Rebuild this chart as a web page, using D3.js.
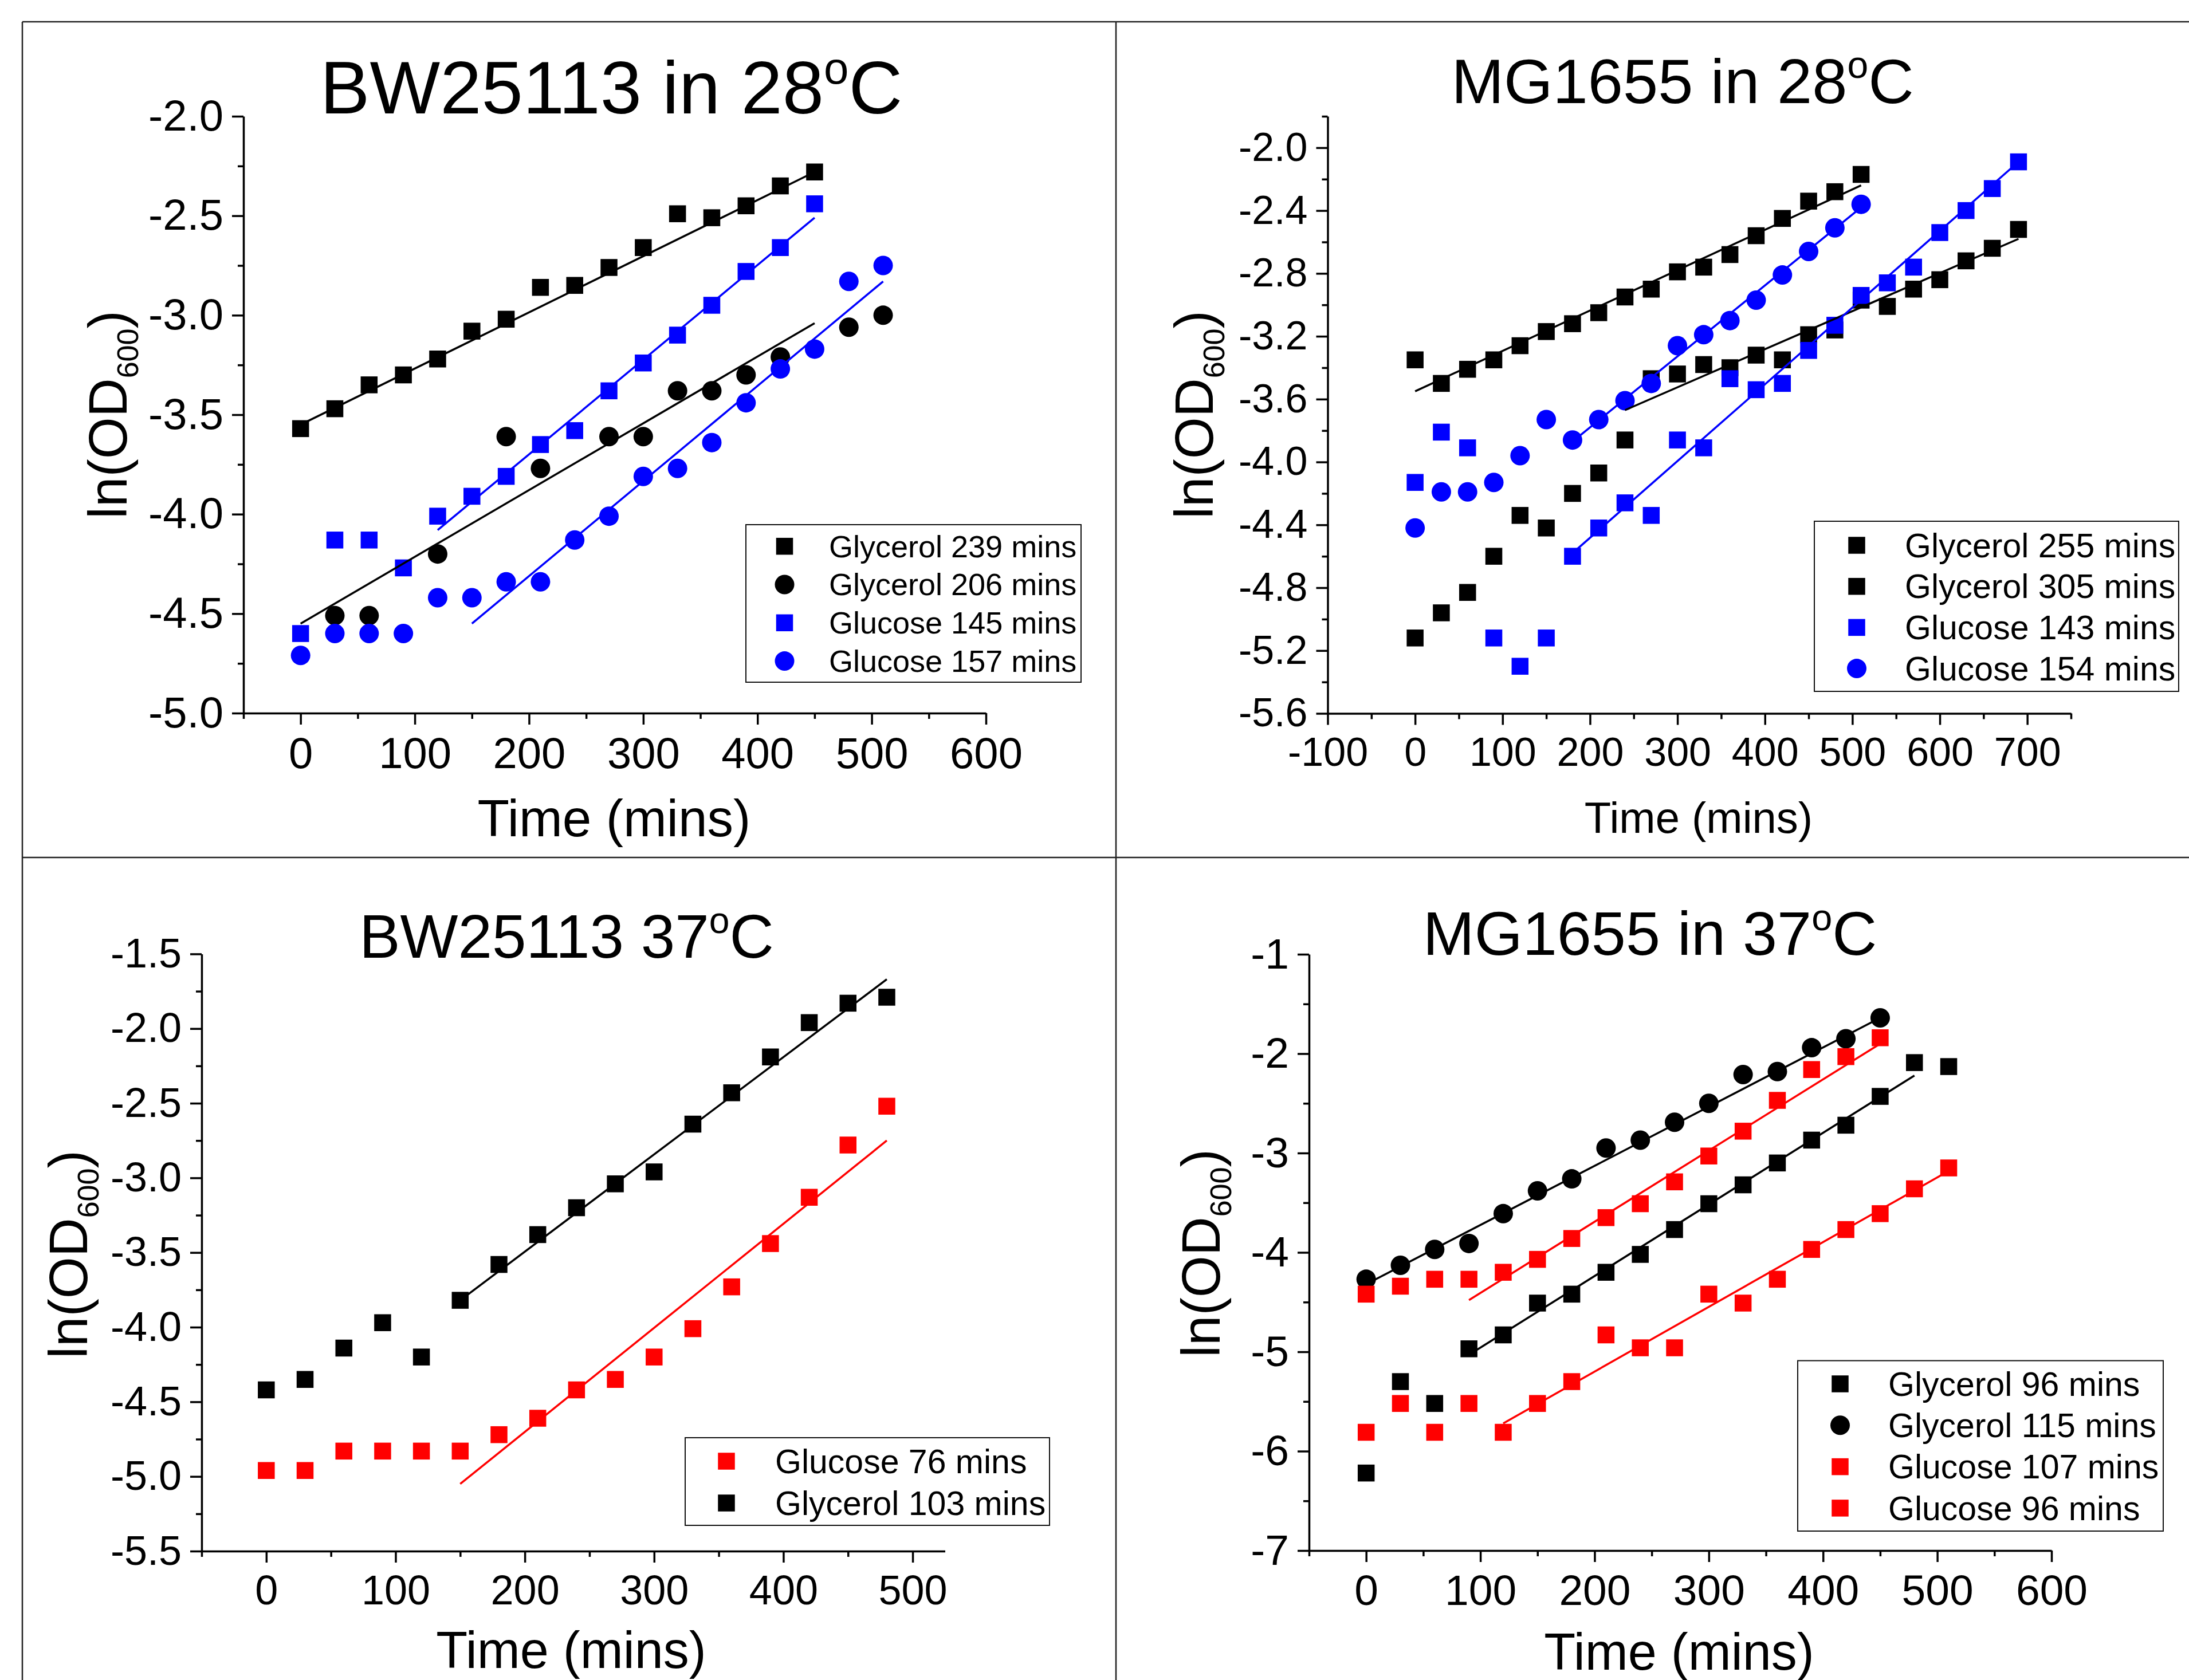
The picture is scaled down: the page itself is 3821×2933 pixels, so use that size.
<!DOCTYPE html>
<html>
<head>
<meta charset="utf-8">
<script src="https://cdn.jsdelivr.net/npm/d3@7"></script>
<style>
  body { margin: 0; background: #fff; }
  svg { display: block; font-family: "Liberation Sans", Arial, sans-serif; }
  .axis path, .axis line { stroke: #000; stroke-width: 3.5; }
  .axis text { fill: #000; font-family: "Liberation Sans", Arial, sans-serif; }
</style>
</head>
<body>
<svg id="fig" width="3821" height="2933"></svg>
<script>
// sampling times (mins), shared by every series; null = no visible point
const times = [0, 30, 60, 90, 120, 150, 180, 210, 240, 270, 300, 330, 360, 390, 420, 450, 480, 510, 540, 570, 600, 630, 660, 690];

// BW25113 in 28C
const bw28Gly239 = [-3.57, -3.47, -3.35, -3.30, -3.22, -3.08, -3.02, -2.86, -2.85, -2.76, -2.66, -2.49, -2.51, -2.45, -2.35, -2.28];
const bw28Gly206 = [null, -4.51, -4.51, null, -4.20, null, -3.61, -3.77, null, -3.61, -3.61, -3.38, -3.38, -3.30, -3.21, null, -3.06, -3.00];
const bw28Glu145 = [-4.60, -4.13, -4.13, -4.27, -4.01, -3.91, -3.81, -3.65, -3.58, -3.38, -3.24, -3.10, -2.95, -2.78, -2.66, -2.44];
const bw28Glu157 = [-4.71, -4.60, -4.60, -4.60, -4.42, -4.42, -4.34, -4.34, -4.13, -4.01, -3.81, -3.77, -3.64, -3.44, -3.27, -3.17, -2.83, -2.75];
const bw28Gly239Fit = [[0, -3.55], [450, -2.28]];
const bw28Gly206Fit = [[0, -4.55], [450, -3.04]];
const bw28Glu145Fit = [[120, -4.08], [450, -2.51]];
const bw28Glu157Fit = [[150, -4.55], [510, -2.83]];

// MG1655 in 28C
const mg28Gly255 = [-3.35, -3.50, -3.41, -3.35, -3.26, -3.17, -3.12, -3.05, -2.95, -2.90, -2.79, -2.76, -2.68, -2.56, -2.45, -2.34, -2.28, -2.17];
const mg28Gly305 = [-5.12, -4.96, -4.83, -4.60, -4.34, -4.42, -4.20, -4.07, -3.86, -3.47, -3.44, -3.38, -3.40, -3.32, -3.35, -3.19, -3.16, -2.97, -3.01, -2.90, -2.84, -2.72, -2.64, -2.52];
const mg28Glu143 = [-4.13, -3.81, -3.91, -5.12, -5.30, -5.12, -4.60, -4.42, -4.26, -4.34, -3.86, -3.91, -3.47, -3.54, -3.50, -3.29, -3.13, -2.94, -2.86, -2.76, -2.54, -2.40, -2.26, -2.09];
const mg28Glu154 = [-4.42, -4.19, -4.19, -4.13, -3.96, -3.73, -3.86, -3.73, -3.61, -3.50, -3.26, -3.19, -3.10, -2.97, -2.81, -2.66, -2.51, -2.36];
const mg28Gly255Fit = [[0, -3.55], [510, -2.24]];
const mg28Gly305Fit = [[240, -3.67], [690, -2.58]];
const mg28Glu143Fit = [[180, -4.58], [690, -2.09]];
const mg28Glu154Fit = [[180, -3.87], [510, -2.38]];

// BW25113 37C
const bw37Glu76 = [-4.96, -4.96, -4.83, -4.83, -4.83, -4.83, -4.72, -4.61, -4.42, -4.35, -4.20, -4.01, -3.73, -3.44, -3.13, -2.78, -2.52];
const bw37Gly103 = [-4.42, -4.35, -4.14, -3.97, -4.20, -3.82, -3.58, -3.38, -3.20, -3.04, -2.96, -2.64, -2.43, -2.19, -1.96, -1.83, -1.79];
const bw37Glu76Fit = [[150, -5.05], [480, -2.75]];
const bw37Gly103Fit = [[150, -3.82], [480, -1.67]];

// MG1655 in 37C
const mg37Gly96 = [-6.22, -5.30, -5.52, -4.97, -4.83, -4.51, -4.42, -4.20, -4.02, -3.77, -3.51, -3.32, -3.10, -2.87, -2.72, -2.43, -2.09, -2.13];
const mg37Gly115 = [-4.27, -4.13, -3.97, -3.91, -3.61, -3.38, -3.26, -2.95, -2.87, -2.69, -2.50, -2.21, -2.18, -1.94, -1.85, -1.64];
const mg37Glu107 = [-4.42, -4.34, -4.27, -4.27, -4.20, -4.07, -3.86, -3.65, -3.51, -3.29, -3.03, -2.78, -2.47, -2.16, -2.03, -1.84];
const mg37Glu96 = [-5.81, -5.52, -5.81, -5.52, -5.81, -5.52, -5.30, -4.83, -4.96, -4.96, -4.42, -4.51, -4.27, -3.97, -3.77, -3.61, -3.36, -3.15];
const mg37Gly96Fit = [[90, -5.03], [480, -2.22]];
const mg37Gly115Fit = [[0, -4.32], [450, -1.64]];
const mg37Glu107Fit = [[90, -4.48], [450, -1.90]];
const mg37Glu96Fit = [[120, -5.72], [510, -3.18]];

// axis ticks
const bw28XTicks = [0, 100, 200, 300, 400, 500, 600];
const bw28XMinor = [-50, 50, 150, 250, 350, 450, 550];
const bw28YTicks = [-2.0, -2.5, -3.0, -3.5, -4.0, -4.5, -5.0];
const bw28YMinor = [-2.25, -2.75, -3.25, -3.75, -4.25, -4.75];
const mg28XTicks = [-100, 0, 100, 200, 300, 400, 500, 600, 700];
const mg28XMinor = [-50, 50, 150, 250, 350, 450, 550, 650, 750];
const mg28YTicks = [-2.0, -2.4, -2.8, -3.2, -3.6, -4.0, -4.4, -4.8, -5.2, -5.6];
const mg28YMinor = [-1.8, -2.2, -2.6, -3.0, -3.4, -3.8, -4.2, -4.6, -5.0, -5.4];
const bw37XTicks = [0, 100, 200, 300, 400, 500];
const bw37XMinor = [-50, 50, 150, 250, 350, 450];
const bw37YTicks = [-1.5, -2.0, -2.5, -3.0, -3.5, -4.0, -4.5, -5.0, -5.5];
const bw37YMinor = [-1.75, -2.25, -2.75, -3.25, -3.75, -4.25, -4.75, -5.25];
const mg37XTicks = [0, 100, 200, 300, 400, 500, 600];
const mg37XMinor = [-50, 50, 150, 250, 350, 450, 550];
const mg37YTicks = [-1, -2, -3, -4, -5, -6, -7];
const mg37YMinor = [-1.5, -2.5, -3.5, -4.5, -5.5, -6.5];

const BLACK = '#000000', BLUE = '#0000ff', RED = '#ff0000';

const panels = [
  {
    title: 'BW25113 in 28', titleX: 1067, titleY: 198, titleSize: 130,
    left: 425, right: 1721, top: 203, bottom: 1245,
    xDomain: [-50, 600], yDomain: [-5.0, -2.0],
    xTicks: bw28XTicks, xMinor: bw28XMinor, yTicks: bw28YTicks, yMinor: bw28YMinor,
    yDec: 1, tickFont: 76,
    xLabel: { x: 1072, y: 1460, size: 91 }, yLabel: { x: 221, y: 724 },
    series: [
      { name: 'Glycerol 239 mins', values: bw28Gly239, fit: bw28Gly239Fit, color: BLACK, shape: 'square' },
      { name: 'Glycerol 206 mins', values: bw28Gly206, fit: bw28Gly206Fit, color: BLACK, shape: 'circle' },
      { name: 'Glucose 145 mins', values: bw28Glu145, fit: bw28Glu145Fit, color: BLUE, shape: 'square' },
      { name: 'Glucose 157 mins', values: bw28Glu157, fit: bw28Glu157Fit, color: BLUE, shape: 'circle' }
    ],
    legend: { x0: 1302, y0: 916, x1: 1887, y1: 1191, row0: 953.7, step: 66.8, markX: 1369.5, textX: 1447, size: 54 }
  },
  {
    title: 'MG1655 in 28', titleX: 2937, titleY: 180, titleSize: 110,
    left: 2317.5, right: 3615, top: 203, bottom: 1245.5,
    xDomain: [-100, 750], yDomain: [-5.6, -1.8],
    xTicks: mg28XTicks, xMinor: mg28XMinor, yTicks: mg28YTicks, yMinor: mg28YMinor,
    yDec: 1, tickFont: 70,
    xLabel: { x: 2965, y: 1454, size: 76 }, yLabel: { x: 2117, y: 724 },
    series: [
      { name: 'Glycerol 255 mins', values: mg28Gly255, fit: mg28Gly255Fit, color: BLACK, shape: 'square' },
      { name: 'Glycerol 305 mins', values: mg28Gly305, fit: mg28Gly305Fit, color: BLACK, shape: 'square' },
      { name: 'Glucose 143 mins', values: mg28Glu143, fit: mg28Glu143Fit, color: BLUE, shape: 'square' },
      { name: 'Glucose 154 mins', values: mg28Glu154, fit: mg28Glu154Fit, color: BLUE, shape: 'circle' }
    ],
    legend: { x0: 3167, y0: 910, x1: 3803, y1: 1207, row0: 952, step: 71.7, markX: 3241, textX: 3325, size: 59 }
  },
  {
    title: 'BW25113 37', titleX: 989, titleY: 1672, titleSize: 107,
    left: 352, right: 1649.5, top: 1665.4, bottom: 2708,
    xDomain: [-50, 525], yDomain: [-5.5, -1.5],
    xTicks: bw37XTicks, xMinor: bw37XMinor, yTicks: bw37YTicks, yMinor: bw37YMinor,
    yDec: 1, tickFont: 72,
    xLabel: { x: 997, y: 2912, size: 90 }, yLabel: { x: 152, y: 2190 },
    series: [
      { name: 'Glucose 76 mins', values: bw37Glu76, fit: bw37Glu76Fit, color: RED, shape: 'square' },
      { name: 'Glycerol 103 mins', values: bw37Gly103, fit: bw37Gly103Fit, color: BLACK, shape: 'square' }
    ],
    legend: { x0: 1196, y0: 2510, x1: 1832, y1: 2663, row0: 2551, step: 73, markX: 1268, textX: 1353, size: 59 }
  },
  {
    title: 'MG1655 in 37', titleX: 2880, titleY: 1667, titleSize: 108,
    left: 2285, right: 3581, top: 1666, bottom: 2707,
    xDomain: [-50, 600], yDomain: [-7, -1],
    xTicks: mg37XTicks, xMinor: mg37XMinor, yTicks: mg37YTicks, yMinor: mg37YMinor,
    yDec: 0, tickFont: 75,
    xLabel: { x: 2931, y: 2915, size: 90 }, yLabel: { x: 2129, y: 2188 },
    series: [
      { name: 'Glycerol 96 mins', values: mg37Gly96, fit: mg37Gly96Fit, color: BLACK, shape: 'square' },
      { name: 'Glycerol 115 mins', values: mg37Gly115, fit: mg37Gly115Fit, color: BLACK, shape: 'circle' },
      { name: 'Glucose 107 mins', values: mg37Glu107, fit: mg37Glu107Fit, color: RED, shape: 'square' },
      { name: 'Glucose 96 mins', values: mg37Glu96, fit: mg37Glu96Fit, color: RED, shape: 'square' }
    ],
    legend: { x0: 3138, y0: 2375.5, x1: 3776, y1: 2673, row0: 2416, step: 72.3, markX: 3212, textX: 3296, size: 59 }
  }
];

const SQ = 29.5, CR = 17;
const svg = d3.select('#fig');

// outer frame + dividers
const frame = svg.append('g').attr('stroke', '#222').attr('stroke-width', 2.5);
frame.append('line').attr('x1', 39).attr('y1', 38).attr('x2', 3821).attr('y2', 38);
frame.append('line').attr('x1', 39).attr('y1', 38).attr('x2', 39).attr('y2', 2933);
frame.append('line').attr('x1', 1948).attr('y1', 38).attr('x2', 1948).attr('y2', 2933);
frame.append('line').attr('x1', 39).attr('y1', 1497).attr('x2', 3821).attr('y2', 1497);

function drawMarker(g, shape, cx, cy, color) {
  if (shape === 'square') {
    g.append('rect').attr('x', cx - SQ / 2).attr('y', cy - SQ / 2)
      .attr('width', SQ).attr('height', SQ).attr('fill', color);
  } else {
    g.append('circle').attr('cx', cx).attr('cy', cy).attr('r', CR).attr('fill', color);
  }
}

function drawPanel(p) {
  const x = d3.scaleLinear().domain(p.xDomain).range([p.left, p.right]);
  const y = d3.scaleLinear().domain(p.yDomain).range([p.bottom, p.top]);
  const g = svg.append('g');

  // title with superscript degree "o"
  const t = g.append('text').attr('x', p.titleX).attr('y', p.titleY)
    .attr('text-anchor', 'middle').attr('font-size', p.titleSize);
  t.append('tspan').text(p.title);
  t.append('tspan').attr('font-size', p.titleSize * 0.6).attr('dy', -p.titleSize * 0.4).text('o');
  t.append('tspan').attr('dy', p.titleSize * 0.4).text('C');

  // axes: major + minor ticks
  const fmtY = d => d.toFixed(p.yDec);
  g.append('g').attr('class', 'axis').attr('transform', `translate(0,${p.bottom})`)
    .call(d3.axisBottom(x).tickValues(p.xMinor).tickSize(10).tickSizeOuter(0).tickFormat(''))
    .call(a => a.select('.domain').remove());
  g.append('g').attr('class', 'axis').attr('transform', `translate(${p.left},0)`)
    .call(d3.axisLeft(y).tickValues(p.yMinor).tickSize(10).tickSizeOuter(0).tickFormat(''))
    .call(a => a.select('.domain').remove());
  g.append('g').attr('class', 'axis').attr('transform', `translate(0,${p.bottom})`)
    .call(d3.axisBottom(x).tickValues(p.xTicks).tickSize(20).tickSizeOuter(0).tickPadding(22).tickFormat(d => String(d)))
    .call(a => a.selectAll('text').attr('font-size', p.tickFont));
  g.append('g').attr('class', 'axis').attr('transform', `translate(${p.left},0)`)
    .call(d3.axisLeft(y).tickValues(p.yTicks).tickSize(20).tickSizeOuter(0).tickPadding(15).tickFormat(fmtY))
    .call(a => a.selectAll('text').attr('font-size', p.tickFont));
  g.selectAll('.axis line').attr('stroke-width', 3);

  // axis titles
  g.append('text').attr('x', p.xLabel.x).attr('y', p.xLabel.y)
    .attr('text-anchor', 'middle').attr('font-size', p.xLabel.size).text('Time (mins)');
  const yl = g.append('text')
    .attr('transform', `translate(${p.yLabel.x},${p.yLabel.y}) rotate(-90)`)
    .attr('text-anchor', 'middle').attr('font-size', 94);
  yl.append('tspan').text('ln(OD');
  yl.append('tspan').attr('font-size', 52).attr('dy', 20).text('600');
  yl.append('tspan').attr('dy', -20).text(')');

  // points
  p.series.forEach(s => {
    const pts = s.values.map((v, i) => ({ t: times[i], v })).filter(d => d.v !== null);
    const pg = g.append('g');
    pts.forEach(d => drawMarker(pg, s.shape, x(d.t), y(d.v), s.color));
  });
  // fitted lines
  const line = d3.line().x(d => x(d[0])).y(d => y(d[1]));
  p.series.forEach(s => {
    g.append('path').attr('d', line(s.fit)).attr('fill', 'none')
      .attr('stroke', s.color).attr('stroke-width', 3.5);
  });

  // legend
  const L = p.legend;
  const lg = g.append('g');
  lg.append('rect').attr('x', L.x0).attr('y', L.y0).attr('width', L.x1 - L.x0).attr('height', L.y1 - L.y0)
    .attr('fill', '#fff').attr('stroke', '#111').attr('stroke-width', 2);
  p.series.forEach((s, i) => {
    const cy = L.row0 + i * L.step;
    drawMarker(lg, s.shape, L.markX, cy, s.color);
    lg.append('text').attr('x', L.textX).attr('y', cy + L.size * 0.35)
      .attr('font-size', L.size).text(s.name);
  });
}

panels.forEach(drawPanel);
</script>
</body>
</html>
